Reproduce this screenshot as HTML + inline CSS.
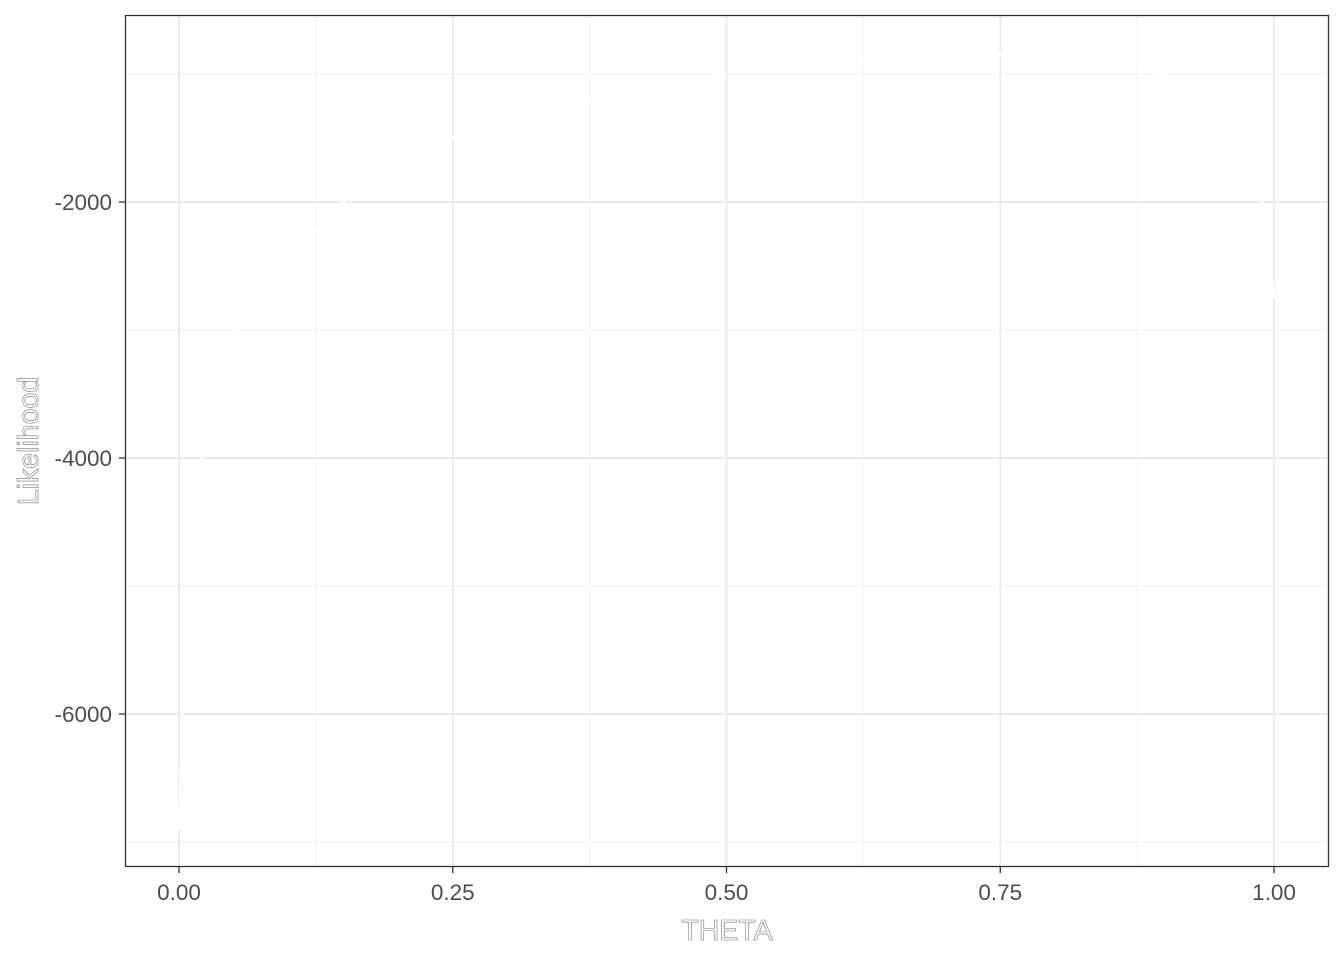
<!DOCTYPE html>
<html><head><meta charset="utf-8"><style>
html,body{margin:0;padding:0;background:#fff;}
svg text{font-family:"Liberation Sans",sans-serif;}
</style></head><body>
<svg id="chart" width="1344" height="960" xmlns="http://www.w3.org/2000/svg">
<rect x="0" y="0" width="1344" height="960" fill="#fff"/>
<g id="grid"></g>
<g id="series"></g>
<rect x="125.5" y="15.5" width="1203" height="851" fill="none" stroke="#333" stroke-width="1.3"/>
<g id="axes"></g>
<text x="727" y="940" text-anchor="middle" font-size="28.5" fill="#fff" stroke="#777" stroke-width="0.6">THETA</text>
<text transform="translate(38,441) rotate(-90)" text-anchor="middle" font-size="28.5" fill="#fff" stroke="#777" stroke-width="0.6">Likelihood</text>
</svg>
<script>
const xTicks=[0,0.25,0.5,0.75,1.0];
const xTickLabels=["0.00","0.25","0.50","0.75","1.00"];
const xMinor=[0.125,0.375,0.625,0.875];
const yTicks=[-6000,-4000,-2000];
const yTickLabels=["-6000","-4000","-2000"];
const yMinor=[-7000,-5000,-3000,-1000];
const theta=[0,0.002,0.005,0.01,0.02,0.05,0.1,0.15,0.2,0.25,0.3,0.4,0.5,0.6,0.7,0.75,0.8,0.9,0.95,0.99,1.0];
const likelihood=[-6900,-6300,-5300,-4600,-4000,-3000,-2450,-2000,-1750,-1500,-1350,-1150,-990,-900,-860,-850,-870,-1000,-1300,-2000,-2750];
const NS="http://www.w3.org/2000/svg";
const X=v=>179+v*(1274-179);
const Y=v=>202+(v+2000)*(458-202)/(-2000);
const L=125,R=1329,T=15,B=867;
function mk(tag,attrs,parent){const e=document.createElementNS(NS,tag);for(const k in attrs)e.setAttribute(k,attrs[k]);parent.appendChild(e);return e;}
const grid=document.getElementById('grid'),axes=document.getElementById('axes'),series=document.getElementById('series');
xMinor.forEach(v=>{const e=mk('line',{x1:X(v),x2:X(v),y1:T,y2:B,stroke:'#f2f2f2','stroke-width':1},grid);

});
yMinor.forEach(v=>{const e=mk('line',{x1:L,x2:R,y1:Y(v),y2:Y(v),stroke:'#f2f2f2','stroke-width':1},grid);

});
xTicks.forEach((v,i)=>{const e=mk('line',{x1:X(v),x2:X(v),y1:T,y2:B,stroke:'#ebebeb','stroke-width':2},grid);


const t=mk('line',{x1:X(v),x2:X(v),y1:B,y2:B+6,stroke:'#333','stroke-width':1.3},axes);


const l=mk('text',{x:X(v),y:900,'text-anchor':'middle','font-size':22.5,fill:'#4d4d4d'},axes);l.textContent=xTickLabels[i];

});
yTicks.forEach((v,i)=>{const e=mk('line',{x1:L,x2:R,y1:Y(v),y2:Y(v),stroke:'#ebebeb','stroke-width':2},grid);


const t=mk('line',{x1:L-6,x2:L,y1:Y(v),y2:Y(v),stroke:'#333','stroke-width':1.3},axes);


const l=mk('text',{x:112,y:Y(v)+8,'text-anchor':'end','font-size':22.5,fill:'#4d4d4d'},axes);l.textContent=yTickLabels[i];

});
const d=theta.map((t,i)=>(i?'L':'M')+X(t).toFixed(1)+','+Y(likelihood[i]).toFixed(1)).join(' ');
const p=mk('path',{d:d,fill:'none',stroke:'#ffffff','stroke-width':2.5},series);


</script>
</body></html>
